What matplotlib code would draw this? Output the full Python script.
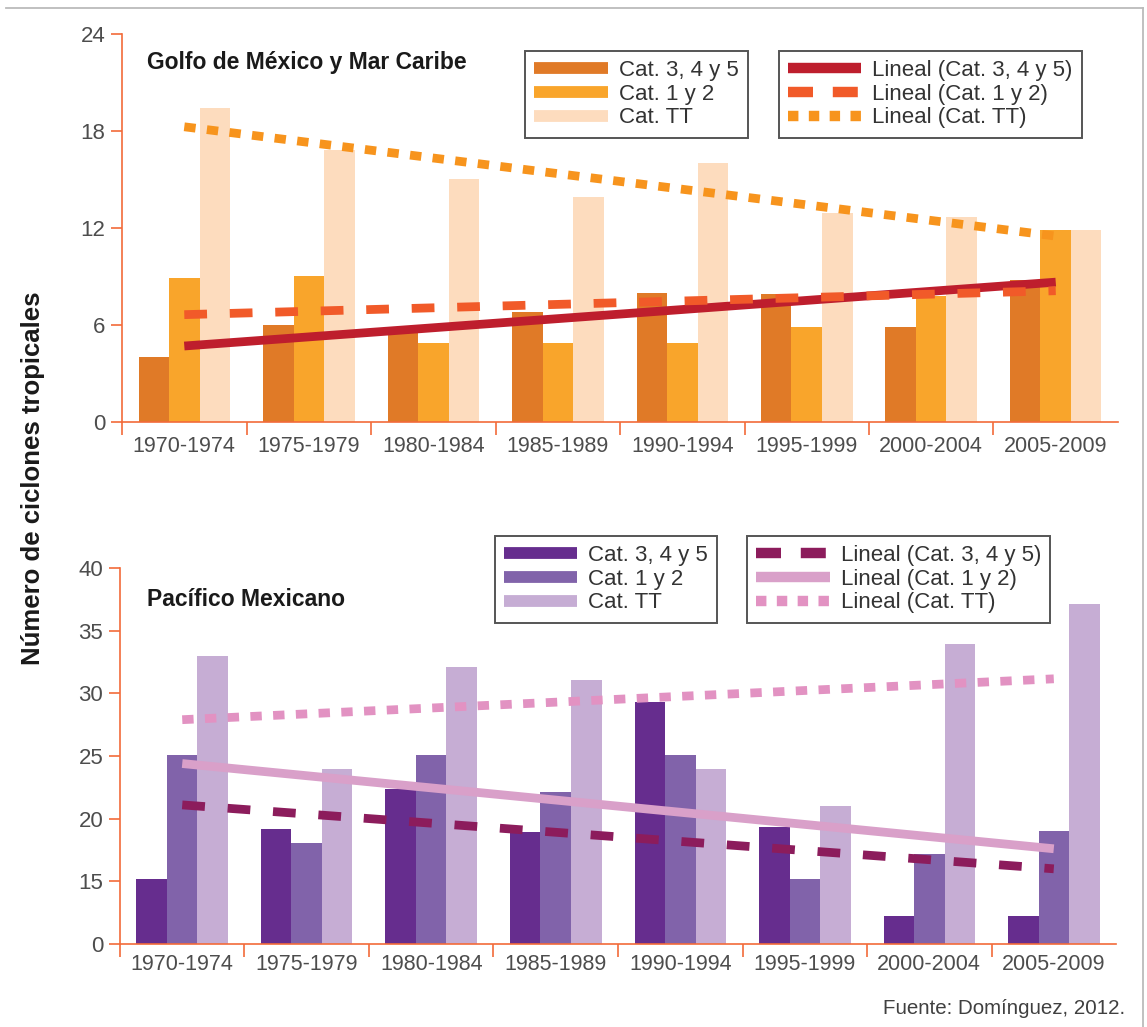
import numpy as np
import matplotlib.pyplot as plt
from matplotlib.lines import Line2D

plt.rcParams['font.family'] = ['Liberation Sans', 'DejaVu Sans']

# datos
periodos = ['1970-1974', '1975-1979', '1980-1984', '1985-1989',
            '1990-1994', '1995-1999', '2000-2004', '2005-2009']

golfo_cat345 = [4.0, 6.0, 5.8, 6.8, 8.0, 7.9, 5.9, 8.8]
golfo_cat12 = [8.9, 9.0, 4.9, 4.9, 4.9, 5.9, 7.8, 11.9]
golfo_tt = [19.4, 16.8, 15.0, 13.9, 16.0, 12.9, 12.7, 11.9]
# tendencias lineales: valor en el primer y ultimo periodo
golfo_tend_cat345 = [4.7, 8.65]
golfo_tend_cat12 = [6.64, 8.12]
golfo_tend_tt = [18.26, 11.5]
golfo_yticks = [0, 6, 12, 18, 24]
golfo_yticklabels = ['0', '6', '12', '18', '24']

pacifico_cat345 = [15.2, 19.2, 22.4, 18.9, 29.3, 19.3, 12.2, 12.2]
pacifico_cat12 = [25.1, 18.1, 25.1, 22.1, 25.1, 15.2, 17.2, 19.0]
pacifico_tt = [33.0, 24.0, 32.1, 31.1, 24.0, 21.0, 33.9, 37.1]
pacifico_tend_cat345 = [21.1, 16.0]
pacifico_tend_cat12 = [24.4, 17.6]
pacifico_tend_tt = [27.9, 31.16]
pacifico_yticks = [10, 15, 20, 25, 30, 35, 40]
pacifico_yticklabels = ['0', '15', '20', '25', '30', '35', '40']

etiquetas_barras = ['Cat. 3, 4 y 5', 'Cat. 1 y 2', 'Cat. TT']
etiquetas_lineas = ['Lineal (Cat. 3, 4 y 5)', 'Lineal (Cat. 1 y 2)', 'Lineal (Cat. TT)']

cor_eixo = '#F26B3A'
cor_texto = '#4D4D4D'

fig = plt.figure(figsize=(11.47, 10.27), dpi=100)
ax1 = fig.add_axes([0.1064, 0.5891, 0.8683, 0.3778])
ax2 = fig.add_axes([0.1046, 0.0808, 0.8684, 0.3661])

x = np.arange(len(periodos))
larg = 0.245


def desenhar(ax, series, cores, tendencias, estilos_tend, yticks, ytlabels, ylim, pad_x):
    for i, (vals, cor) in enumerate(zip(series, cores)):
        ax.bar(x + (i - 1) * larg, vals, larg, color=cor, linewidth=0, zorder=2)
    xt = np.array([x[0], x[-1]])
    for tend, est in zip(tendencias, estilos_tend):
        ln, = ax.plot(xt, tend, color=est['color'], lw=6.3, zorder=3,
                      solid_capstyle='butt', dash_capstyle='butt')
        if est['dashes'] is not None:
            ln.set_dashes(est['dashes'])
    ax.set_xlim(-0.5, len(periodos) - 0.5)
    ax.set_ylim(*ylim)
    ax.set_yticks(yticks)
    ax.set_yticklabels(ytlabels)
    ax.set_xticks(np.arange(-0.5, len(periodos) - 1))
    ax.set_xticklabels([])
    ax.set_xticks(x, minor=True)
    ax.set_xticklabels(periodos, minor=True)
    ax.tick_params(axis='x', which='major', length=9, width=1.2, color=cor_eixo, direction='out')
    ax.tick_params(axis='x', which='minor', length=0, pad=pad_x, labelsize=15.5, labelcolor=cor_texto)
    ax.tick_params(axis='y', length=8, width=1.2, color=cor_eixo, pad=4,
                   labelsize=16, labelcolor=cor_texto)
    for s in ['top', 'right']:
        ax.spines[s].set_visible(False)
    for s in ['left', 'bottom']:
        ax.spines[s].set_color(cor_eixo)
        ax.spines[s].set_linewidth(1.2)


# ---- Golfo de Mexico
cores_golfo = ['#E07A27', '#F9A52B', '#FDDCBE']
est_golfo = [dict(color='#BE1E2D', dashes=None),
             dict(color='#F15A29', dashes=(2.6, 2.6)),
             dict(color='#F7941D', dashes=(1.3, 1.3))]
desenhar(ax1, [golfo_cat345, golfo_cat12, golfo_tt], cores_golfo,
         [golfo_tend_cat345, golfo_tend_cat12, golfo_tend_tt], est_golfo,
         golfo_yticks, golfo_yticklabels, (0, 24), 10)

# ---- Pacifico
cores_pac = ['#662D8E', '#8163AA', '#C6ADD4']
est_pac = [dict(color='#8C1C5C', dashes=(2.6, 2.6)),
           dict(color='#D9A0C9', dashes=None),
           dict(color='#E292C2', dashes=(1.3, 1.3))]
desenhar(ax2, [pacifico_cat345, pacifico_cat12, pacifico_tt], cores_pac,
         [pacifico_tend_cat345, pacifico_tend_cat12, pacifico_tend_tt], est_pac,
         pacifico_yticks, pacifico_yticklabels, (10, 40), 7)

fig.text(147 / 1147, 1 - 63 / 1027, 'Golfo de México y Mar Caribe', fontsize=16.5,
         fontweight='bold', color='#1A1A1A', va='center', ha='left')
fig.text(147 / 1147, 1 - 600 / 1027, 'Pacífico Mexicano', fontsize=16.5,
         fontweight='bold', color='#1A1A1A', va='center', ha='left')
fig.text(33 / 1147, 1 - 478 / 1027, 'Número de ciclones tropicales', fontsize=18.5,
         fontweight='bold', color='#1A1A1A', rotation=90, va='center', ha='center')
fig.text(1125 / 1147, 1 - 1008 / 1027, 'Fuente: Domínguez, 2012.', fontsize=14.8,
         color='#404040', va='center', ha='right')


def legendas(ax, cores, estilos, xa, xb, ytop):
    h1 = [Line2D([], [], color=c, lw=8.5, solid_capstyle='butt') for c in cores]
    h2 = []
    for est in estilos:
        ln = Line2D([], [], color=est['color'], lw=7.5, solid_capstyle='butt',
                    dash_capstyle='butt')
        if est['dashes'] is not None:
            d = est['dashes']
            ln.set_dashes((2.4, 1.9) if d[0] > 2 else (1.0, 1.0))
        h2.append(ln)
    kw = dict(loc='upper left', fontsize=16, handlelength=3.3, handletextpad=0.5,
              labelspacing=0.12, borderpad=0.42, borderaxespad=0, fancybox=False,
              framealpha=1, edgecolor='#555555', labelcolor='#333333')
    lg1 = ax.legend(h1, etiquetas_barras, bbox_to_anchor=(xa, ytop),
                    bbox_transform=fig.transFigure, **kw)
    lg1.get_frame().set_linewidth(1.4)
    ax.add_artist(lg1)
    lg2 = ax.legend(h2, etiquetas_lineas, bbox_to_anchor=(xb, ytop),
                    bbox_transform=fig.transFigure, **kw)
    lg2.get_frame().set_linewidth(1.4)


legendas(ax1, cores_golfo, est_golfo, 525 / 1147, 778.5 / 1147, 1 - 50.7 / 1027)
legendas(ax2, cores_pac, est_pac, 494.5 / 1147, 747 / 1147, 1 - 535.7 / 1027)

# marco gris superior y derecho
fig.add_artist(Line2D([6 / 1147, 1143 / 1147], [1 - 8 / 1027, 1 - 8 / 1027],
                      color='#BBBBBB', lw=1.3, transform=fig.transFigure))
fig.add_artist(Line2D([1143 / 1147, 1143 / 1147], [1 - 8 / 1027, 0],
                      color='#BBBBBB', lw=1.3, transform=fig.transFigure))

fig.savefig('out.png', dpi=100)
